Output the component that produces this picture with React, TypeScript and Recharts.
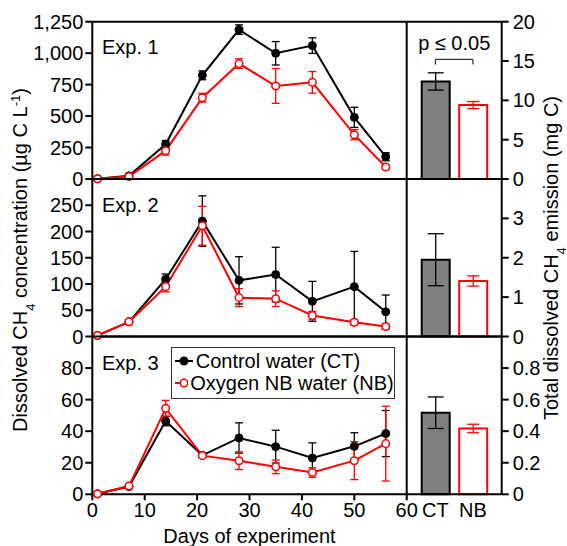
import { LineChart, Line, XAxis, YAxis, ErrorBar, ReferenceLine, BarChart, Bar } from "recharts";

// sampling days
const days = [1, 7, 14, 21, 28, 35, 42, 50, 56];
const xTicks = [0, 10, 20, 30, 40, 50, 60];

// Exp. 1 (µg C/L)
const exp1Ct = [2, 25, 276, 824, 1187, 999, 1060, 490, 177];
const exp1CtErr = [0, 8, 30, 35, 38, 93, 62, 80, 32];
const exp1Nb = [2, 20, 225, 646, 917, 739, 768, 352, 95];
const exp1NbErr = [0, 8, 35, 35, 38, 138, 86, 40, 15];

// Exp. 2
const exp2Ct = [2, 28, 109, 220, 107, 118, 67, 95, 47];
const exp2CtErr = [0, 3, 10, 48, 45, 52, 38, 67, 32];
const exp2Nb = [2, 28, 95, 211, 74, 72, 40, 27, 19];
const exp2NbErr = [0, 3, 10, 37, 17, 15, 8, 5, 5];

// Exp. 3
const exp3Ct = [0.3, 4.9, 46.4, 24.7, 35.7, 30.2, 23, 30.4, 38.5];
const exp3CtErr = [0, 0.8, 3, 1.2, 9.6, 10.4, 9.6, 8.6, 14.6];
const exp3Nb = [0.3, 5.2, 54.5, 24.5, 21.3, 17.4, 13.8, 21.3, 32.1];
const exp3NbErr = [0, 0.8, 5, 1, 5.6, 4.3, 3, 12, 23.7];

// total emission (mg C): [CT, NB]
const groups = ["CT", "NB"];
const totals1 = [12.4, 9.4];
const totals1Err = [1.1, 0.45];
const totals2 = [1.95, 1.41];
const totals2Err = [0.66, 0.13];
const totals3 = [0.517, 0.417];
const totals3Err = [0.1, 0.027];

const yTicks1 = [0, 250, 500, 750, 1000, 1250];
const yTicks2 = [0, 50, 100, 150, 200, 250];
const yTicks3 = [0, 20, 40, 60, 80];
const rTicks1 = [0, 5, 10, 15, 20];
const rTicks2 = [0, 1, 2, 3];
const rTicks3 = [0, 0.2, 0.4, 0.6, 0.8];

const legendItems = ["Control water (CT)", "Oxygen NB water (NB)"];
const pText = "p \u2264 0.05";

const W = 567;
const H = 546;
const PLOT_LEFT = 92.3;
const PLOT_RIGHT = 406.7;
const BAR_RIGHT = 501.7;
const RY_W = 50;
const RED = "#ff0000";
const FONT = 20;

const axisStyle = { stroke: "#000", strokeWidth: 2 };
const tickStyle = { fill: "#000", fontSize: FONT };

function toRows(ct: number[], ctErr: number[], nb: number[], nbErr: number[]) {
  return days.map((day, i) => ({ day, ct: ct[i], ctErr: ctErr[i], nb: nb[i], nbErr: nbErr[i] }));
}

function toBars(vals: number[], errs: number[]) {
  return groups.map((name, i) => ({
    name,
    ct: i === 0 ? vals[i] : null,
    ctErr: i === 0 ? errs[i] : undefined,
    nb: i === 1 ? vals[i] : null,
    nbErr: i === 1 ? errs[i] : undefined,
  }));
}

const fmt = (v: number) => v.toLocaleString("en-US");

interface PanelProps {
  rows: ReturnType<typeof toRows>;
  bars: ReturnType<typeof toBars>;
  yMax: number;
  yTicks: number[];
  rMax: number;
  rTicks: number[];
  top: number;
  bottom: number;
  showX: boolean;
  pBracket?: boolean;
}

function Panel({ rows, bars, yMax, yTicks, rMax, rTicks, top, bottom, showX, pBracket }: PanelProps) {
  return (
    <>
      <div style={{ position: "absolute", left: 0, top: 0 }}>
        <LineChart width={W} height={H} data={rows} margin={{ top, right: W - PLOT_RIGHT, bottom: 0, left: 0 }}>
          <XAxis
            dataKey="day"
            type="number"
            domain={[0, 60]}
            ticks={xTicks}
            interval={0}
            height={H - bottom}
            tickSize={6}
            tickMargin={2}
            axisLine={axisStyle}
            tickLine={axisStyle}
            tick={showX ? tickStyle : false}
            label={showX ? { value: "Days of experiment", position: "insideBottom", offset: 3, fill: "#000", fontSize: FONT } : undefined}
          />
          <YAxis
            domain={[0, yMax]}
            ticks={yTicks}
            interval={0}
            width={PLOT_LEFT}
            tickSize={7}
            tickMargin={2}
            axisLine={axisStyle}
            tickLine={axisStyle}
            tick={tickStyle}
            tickFormatter={fmt}
          />
          <ReferenceLine y={yMax} stroke="#000" strokeWidth={2} />
          <ReferenceLine x={60} stroke="#000" strokeWidth={2} />
          <Line
            dataKey="ct"
            type="linear"
            stroke="#000"
            strokeWidth={2}
            dot={{ r: 4, fill: "#000", stroke: "#000", strokeWidth: 1 }}
            isAnimationActive={false}
          >
            <ErrorBar dataKey="ctErr" width={4} stroke="#000" strokeWidth={1.3} />
          </Line>
          <Line
            dataKey="nb"
            type="linear"
            stroke={RED}
            strokeWidth={2}
            dot={{ r: 3.8, fill: "#fff", stroke: RED, strokeWidth: 1.5 }}
            isAnimationActive={false}
          >
            <ErrorBar dataKey="nbErr" width={4} stroke={RED} strokeWidth={1.3} />
          </Line>
        </LineChart>
      </div>
      <div style={{ position: "absolute", left: 0, top: 0 }}>
        <BarChart
          width={W}
          height={H}
          data={bars}
          barSize={28}
          margin={{ top, right: W - BAR_RIGHT - RY_W, bottom: 0, left: PLOT_RIGHT }}
        >
          <XAxis
            dataKey="name"
            height={H - bottom}
            padding={{ left: 10, right: 10 }}
            tickLine={false}
            tickSize={6}
            tickMargin={2}
            axisLine={axisStyle}
            tick={showX ? tickStyle : false}
          />
          <YAxis
            orientation="right"
            domain={[0, rMax]}
            ticks={rTicks}
            interval={0}
            width={RY_W}
            tickSize={7}
            tickMargin={4}
            axisLine={axisStyle}
            tickLine={axisStyle}
            tick={tickStyle}
          />
          <ReferenceLine y={rMax} stroke="#000" strokeWidth={2} />
          <Bar dataKey="ct" stackId="s" fill="#808080" stroke="#000" strokeWidth={2} isAnimationActive={false}>
            <ErrorBar dataKey="ctErr" width={8} stroke="#000" strokeWidth={1.3} />
          </Bar>
          <Bar dataKey="nb" stackId="s" fill="#fff" stroke={RED} strokeWidth={2} isAnimationActive={false}>
            <ErrorBar dataKey="nbErr" width={6} stroke={RED} strokeWidth={1.3} />
          </Bar>
          {pBracket && (
            <ReferenceLine
              segment={[{ x: "CT", y: 15.2 }, { x: "NB", y: 15.2 }]}
              stroke="#333"
              strokeWidth={1.3}
              label={{ value: pText, position: "top", offset: 9, fill: "#000", fontSize: FONT }}
            />
          )}
          {pBracket && (
            <ReferenceLine segment={[{ x: "CT", y: 15.2 }, { x: "CT", y: 14.55 }]} stroke="#333" strokeWidth={1.3} />
          )}
          {pBracket && (
            <ReferenceLine segment={[{ x: "NB", y: 15.2 }, { x: "NB", y: 14.55 }]} stroke="#333" strokeWidth={1.3} />
          )}
        </BarChart>
      </div>
    </>
  );
}

function LegendBox() {
  return (
    <div
      style={{
        position: "absolute",
        left: 170.7,
        top: 346.7,
        width: 222,
        height: 48,
        border: "1px solid #333",
        background: "#fff",
        fontSize: FONT,
        lineHeight: "22px",
        paddingTop: 2,
        boxSizing: "content-box",
      }}
    >
      {legendItems.map((name, i) => (
        <div key={name} style={{ display: "flex", alignItems: "center", height: 22, whiteSpace: "nowrap" }}>
          <svg width={20} height={22} style={{ marginLeft: 2, marginRight: 2 }}>
            <line x1={1} y1={11} x2={19} y2={11} stroke={i === 0 ? "#000" : RED} strokeWidth={2} />
            <circle cx={10} cy={11} r={3.8} fill={i === 0 ? "#000" : "#fff"} stroke={i === 0 ? "#000" : RED} strokeWidth={1.5} />
          </svg>
          <span>{name}</span>
        </div>
      ))}
    </div>
  );
}

const expLabel = (text: string, top: number) => (
  <div style={{ position: "absolute", left: 102, top, fontSize: FONT, lineHeight: "24px" }}>{text}</div>
);

export default function App() {
  const rows1 = toRows(exp1Ct, exp1CtErr, exp1Nb, exp1NbErr);
  const rows2 = toRows(exp2Ct, exp2CtErr, exp2Nb, exp2NbErr);
  const rows3 = toRows(exp3Ct, exp3CtErr, exp3Nb, exp3NbErr);
  return (
    <div
      style={{
        position: "absolute",
        left: 0,
        top: 0,
        width: W,
        height: H,
        overflow: "hidden",
        background: "#fff",
        fontFamily: "'Liberation Sans', Arial, sans-serif",
        color: "#000",
      }}
    >
      <Panel rows={rows1} bars={toBars(totals1, totals1Err)} yMax={1250} yTicks={yTicks1} rMax={20} rTicks={rTicks1} top={21.7} bottom={179} showX={false} pBracket />
      <Panel rows={rows2} bars={toBars(totals2, totals2Err)} yMax={300} yTicks={yTicks2} rMax={4} rTicks={rTicks2} top={179} bottom={336.5} showX={false} />
      <Panel rows={rows3} bars={toBars(totals3, totals3Err)} yMax={100} yTicks={yTicks3} rMax={1} rTicks={rTicks3} top={336.5} bottom={494.3} showX />
      {expLabel("Exp. 1", 35)}
      {expLabel("Exp. 2", 193)}
      {expLabel("Exp. 3", 351)}
      <LegendBox />
      <svg width={W} height={H} style={{ position: "absolute", left: 0, top: 0, pointerEvents: "none" }}>
        <text transform="translate(27,260) rotate(-90)" textAnchor="middle" fontSize={FONT} fill="#000">
          Dissolved CH<tspan baselineShift="sub" fontSize={13}>4</tspan> concentration (µg C L<tspan baselineShift="super" fontSize={13}>-1</tspan>)
        </text>
        <text transform="translate(558,258) rotate(-90)" textAnchor="middle" fontSize={FONT} fill="#000">
          Total dissolved CH<tspan baselineShift="sub" fontSize={13}>4</tspan> emission (mg C)
        </text>
      </svg>
    </div>
  );
}
